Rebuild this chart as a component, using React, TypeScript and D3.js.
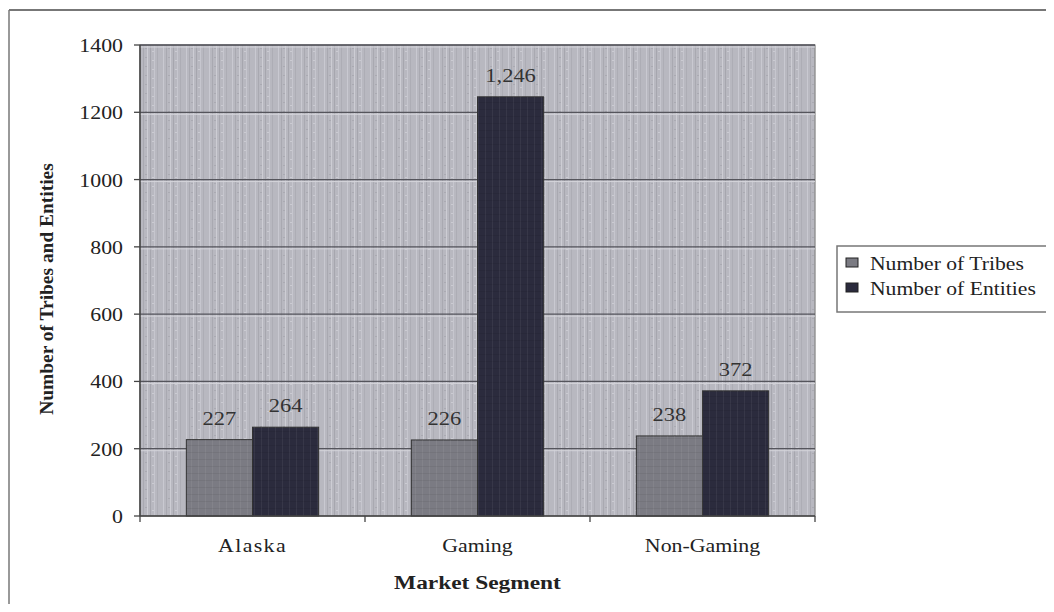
import React from "react";
import * as d3 from "d3";

const categories = ["Alaska", "Gaming", "Non-Gaming"];
const seriesNames = ["Number of Tribes", "Number of Entities"];
const tribes = [227, 226, 238];
const entities = [264, 1246, 372];
const yTicks = [0, 200, 400, 600, 800, 1000, 1200, 1400];

const W = 1054;
const H = 612;
const M = { left: 140, right: 815, top: 45, bottom: 516 };
const FONT = "'Liberation Serif', 'Times New Roman', serif";
const COLORS = ["#7b7b83", "#2b2b3d"];

type STextProps = {
  x: number;
  y: number;
  sx: number;
  size: number;
  anchor?: "start" | "middle" | "end";
  bold?: boolean;
  rotate?: number;
  ls?: number;
  fill?: string;
  children: React.ReactNode;
};

function SText({ x, y, sx, size, anchor = "start", bold, rotate = 0, ls = 0, fill = "#222", children }: STextProps) {
  return (
    <text
      transform={`translate(${x},${y}) rotate(${rotate}) scale(${sx},1)`}
      textAnchor={anchor}
      fontSize={size}
      fontWeight={bold ? "bold" : "normal"}
      letterSpacing={ls}
      fill={fill}
    >
      {children}
    </text>
  );
}

export default function App() {
  const x = d3.scaleBand<string>().domain(categories).range([M.left, M.right]).paddingInner(0.412).paddingOuter(0.206);
  const inner = d3.scaleBand<string>().domain(seriesNames).range([0, x.bandwidth()]);
  const y = d3.scaleLinear().domain([0, 1400]).range([M.bottom, M.top]);
  const step = x.step();
  const series = [tribes, entities];

  return (
    <div style={{ margin: -8 }}>
      <svg width={W} height={H} style={{ display: "block", background: "#fff" }} fontFamily={FONT}>
        <defs>
          <pattern id="tex" width="23" height="9" patternUnits="userSpaceOnUse">
            <rect width="23" height="9" fill="#b8b8c0" />
            <rect x="2" width="1" height="9" fill="#c9c9d1" />
            <rect x="5" width="1" height="9" fill="#a9a9b1" />
            <rect x="9" width="1" height="9" fill="#cdcdd4" />
            <rect x="12" width="1" height="9" fill="#a6a6ae" />
            <rect x="16" width="1" height="9" fill="#c6c6ce" />
            <rect x="19" width="1" height="9" fill="#adadb5" />
            <rect x="7" y="3" width="2" height="1" fill="#aaaab2" />
            <rect x="14" y="6" width="2" height="1" fill="#cbcbd2" />
          </pattern>
          <pattern id="texBar" width="7" height="7" patternUnits="userSpaceOnUse">
            <rect width="7" height="7" fill="#000" fillOpacity="0" />
            <rect x="2" width="1" height="7" fill="#fff" fillOpacity="0.06" />
            <rect y="4" width="7" height="1" fill="#000" fillOpacity="0.06" />
          </pattern>
        </defs>

        {/* outer frame */}
        <line x1={9} x2={W} y1={10} y2={10} stroke="#777" strokeWidth={2} />
        <line x1={9} x2={9} y1={10} y2={609} stroke="#777" strokeWidth={1.5} />
        <line x1={9} x2={W} y1={609} y2={609} stroke="#eee" strokeWidth={1} />

        {/* plot background */}
        <rect x={M.left} y={M.top} width={M.right - M.left} height={M.bottom - M.top} fill="url(#tex)" stroke="#666" strokeWidth={1} />

        {/* gridlines */}
        {yTicks.slice(1).map((t) => (
          <g key={t}>
            <line x1={M.left} x2={M.right} y1={y(t)} y2={y(t)} stroke="#55555c" strokeWidth={1.3} />
            <line x1={M.left} x2={M.right} y1={y(t) + 2} y2={y(t) + 2} stroke="#d4d4da" strokeWidth={1} />
          </g>
        ))}

        {/* bars */}
        {categories.map((c, i) => (
          <g key={c}>
            {series.map((s, j) => {
              const bx = (x(c) as number) + (inner(seriesNames[j]) as number);
              const by = y(s[i]);
              const bw = inner.bandwidth();
              const bh = M.bottom - by;
              return (
                <g key={j}>
                  <rect x={bx} y={by} width={bw} height={bh} fill={COLORS[j]} stroke="#333" strokeWidth={1} />
                  <rect x={bx} y={by} width={bw} height={bh} fill="url(#texBar)" />
                  <SText x={bx + bw / 2} y={by - 15} sx={1.25} size={18} anchor="middle" fill="#333">
                    {d3.format(",")(s[i])}
                  </SText>
                </g>
              );
            })}
          </g>
        ))}

        {/* axes */}
        <line x1={M.left} x2={M.left} y1={M.top} y2={M.bottom} stroke="#444" strokeWidth={1.5} />
        <line x1={M.left} x2={M.right} y1={M.bottom} y2={M.bottom} stroke="#444" strokeWidth={1.5} />
        {yTicks.map((t) => (
          <g key={t}>
            <line x1={M.left - 6} x2={M.left} y1={y(t)} y2={y(t)} stroke="#444" strokeWidth={1.3} />
            <SText x={M.left - 17} y={y(t) + 7} sx={1.12} size={19.5} anchor="end">
              {t}
            </SText>
          </g>
        ))}
        {categories.map((c, i) => (
          <line key={c} x1={M.left + step * (i + 1)} x2={M.left + step * (i + 1)} y1={M.bottom} y2={M.bottom + 6} stroke="#444" strokeWidth={1.3} />
        ))}
        <line x1={M.left} x2={M.left} y1={M.bottom} y2={M.bottom + 6} stroke="#444" strokeWidth={1.3} />
        {categories.map((c) => (
          <SText key={c} x={(x(c) as number) + x.bandwidth() / 2} y={552} sx={1.15} size={19} anchor="middle" ls={c === "Alaska" ? 1.2 : 0}>
            {c}
          </SText>
        ))}

        {/* axis titles */}
        <SText x={(M.left + M.right) / 2} y={589} sx={1.2} size={19.5} anchor="middle" bold>
          Market Segment
        </SText>
        <SText x={53} y={289} sx={1.08} size={18} anchor="middle" bold rotate={-90}>
          Number of Tribes and Entities
        </SText>

        {/* legend */}
        <rect x={837} y={246} width={230} height={66} fill="#fff" stroke="#777" strokeWidth={1.5} />
        {seriesNames.map((n, j) => (
          <g key={n}>
            <rect x={846} y={258 + j * 25} width={12} height={9} fill={COLORS[j]} stroke="#222" strokeWidth={1} />
            <SText x={870} y={270 + j * 25} sx={1.17} size={18.5}>
              {n}
            </SText>
          </g>
        ))}
      </svg>
    </div>
  );
}
